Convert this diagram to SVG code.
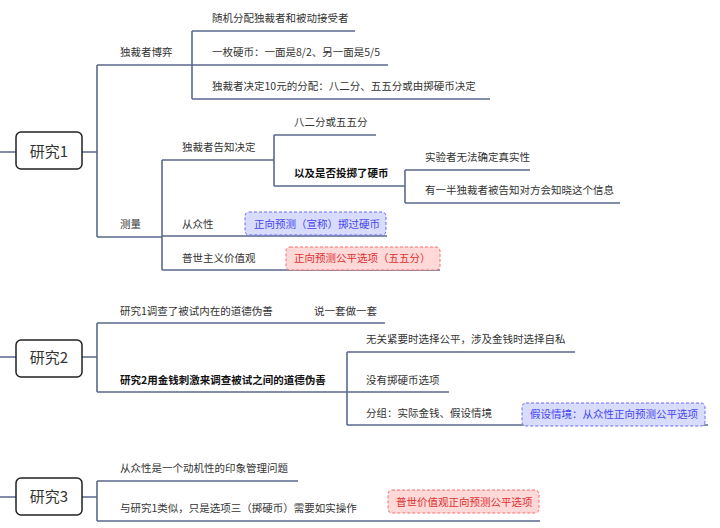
<svg xmlns="http://www.w3.org/2000/svg" width="720" height="528" viewBox="0 0 720 528">
<style>
text{font-family:"Noto Sans CJK SC","Liberation Serif",serif;font-size:10.5px;fill:#333}
.b{font-weight:bold;fill:#111}
.root rect{fill:#fff;stroke:#222;stroke-width:1.5}
.root text{font-size:15px;text-anchor:middle;fill:#333}
.c{fill:none;stroke:#5a6a8c;stroke-width:1.6}
.blue rect{fill:#d8dcff;stroke:#6b6bff;stroke-dasharray:3 2}
.blue text{fill:#4646f0}
.red rect{fill:#ffd8d8;stroke:#ff6b6b;stroke-dasharray:3 2}
.red text{fill:#e03030}
</style>
<rect width="720" height="528" fill="#fff"/>
<g id="connectors" class="c">
<path d="M0 152H16M82 152H97M97 65V237M97 65H192M192 31V99M192 31H355M192 65H388M192 99H490M97 237H162M162 160V270M162 160H274M274 135V186M274 135H376M274 186H405M405 170V203M405 170H530M405 203H620M162 236H387M162 270H440"/>
<path d="M0 357H16M82 357H97M97 323V392M97 323H385M97 392H449M347 352V425M347 352H575M347 425H708"/>
<path d="M0 497H16M82 497H97M97 481V521M97 481H298M97 521H540"/>
</g>
<g id="study1" class="root"><rect x="16" y="132" width="66" height="37" rx="5"/><text x="49" y="157">研究1</text></g>
<g id="n1"><text x="120" y="56">独裁者博弈</text></g>
<g id="n1a"><text x="212" y="22">随机分配独裁者和被动接受者</text></g>
<g id="n1b"><text x="212" y="56">一枚硬币：一面是8/2、另一面是5/5</text></g>
<g id="n1c"><text x="212" y="90">独裁者决定10元的分配：八二分、五五分或由掷硬币决定</text></g>
<g id="n2"><text x="120" y="228">测量</text></g>
<g id="n2a"><text x="182" y="151">独裁者告知决定</text></g>
<g id="n2a1"><text x="294" y="126">八二分或五五分</text></g>
<g id="n2a2"><text class="b" x="294" y="177">以及是否投掷了硬币</text></g>
<g id="n2a2a"><text x="425" y="161">实验者无法确定真实性</text></g>
<g id="n2a2b"><text x="425" y="194">有一半独裁者被告知对方会知晓这个信息</text></g>
<g id="n2b"><text x="182" y="228">从众性</text></g>
<g id="n2b1" class="blue"><rect x="245" y="212" width="141" height="23" rx="4"/><text x="254" y="228">正向预测（宣称）掷过硬币</text></g>
<g id="n2c"><text x="182" y="262">普世主义价值观</text></g>
<g id="n2c1" class="red"><rect x="286" y="247" width="154" height="23" rx="4"/><text x="294" y="262">正向预测公平选项（五五分）</text></g>
<g id="study2" class="root"><rect x="16" y="340" width="66" height="37" rx="5"/><text x="49" y="363">研究2</text></g>
<g id="m1"><text x="120" y="315">研究1调查了被试内在的道德伪善</text></g>
<g id="m1a"><text x="314" y="315">说一套做一套</text></g>
<g id="m2"><text class="b" x="120" y="384">研究2用金钱刺激来调查被试之间的道德伪善</text></g>
<g id="m2a"><text x="366" y="343">无关紧要时选择公平，涉及金钱时选择自私</text></g>
<g id="m2b"><text x="366" y="384">没有掷硬币选项</text></g>
<g id="m2c"><text x="366" y="417">分组：实际金钱、假设情境</text></g>
<g id="m2c1" class="blue"><rect x="522" y="403" width="183" height="23" rx="4"/><text x="530" y="418">假设情境：从众性正向预测公平选项</text></g>
<g id="study3" class="root"><rect x="16" y="478" width="66" height="37" rx="5"/><text x="49" y="502">研究3</text></g>
<g id="s1"><text x="120" y="472">从众性是一个动机性的印象管理问题</text></g>
<g id="s2"><text x="120" y="512">与研究1类似，只是选项三（掷硬币）需要如实操作</text></g>
<g id="s2a" class="red"><rect x="388" y="490" width="151" height="23" rx="4"/><text x="396" y="506">普世价值观正向预测公平选项</text></g>
</svg>
